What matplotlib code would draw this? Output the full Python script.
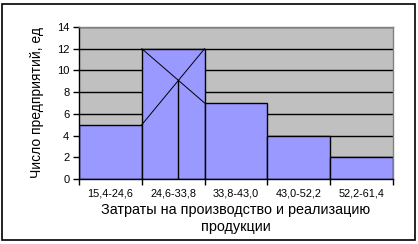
import matplotlib.pyplot as plt
import numpy as np
from matplotlib.patches import Rectangle

plt.rcParams['font.family'] = ['Liberation Sans', 'DejaVu Sans']

# data
intervals = ['15,4-24,6', '24,6-33,8', '33,8-43,0', '43,0-52,2', '52,2-61,4']
counts = [5, 12, 7, 4, 2]
y_ticks = [0, 2, 4, 6, 8, 10, 12, 14]

fig = plt.figure(figsize=(4.18, 2.44), dpi=100)
# outer chart border like excel
fig.patches.append(Rectangle((2 / 418, 4 / 244), 413 / 418, 236 / 244, transform=fig.transFigure,
                             fill=False, edgecolor='black', linewidth=1.2))

ax = fig.add_axes([79 / 418, 1 - 179 / 244, 314 / 418, 152 / 244])
ax.set_facecolor('#C0C0C0')

x = np.arange(len(counts))
ax.set_axisbelow(True)
ax.grid(axis='y', color='black', linewidth=1.0)
ax.bar(x, counts, width=1.0, color='#9999FF', edgecolor='black', linewidth=1.0, zorder=2)

# mode construction inside the modal bar
m = int(np.argmax(counts))
left, right = m - 0.5, m + 0.5
prev_c, mode_c, next_c = counts[m - 1], counts[m], counts[m + 1]
ax.plot([left, right], [prev_c, mode_c], color='black', linewidth=0.7, zorder=3)
ax.plot([left, right], [mode_c, next_c], color='black', linewidth=0.7, zorder=3)
t = (mode_c - prev_c) / ((mode_c - prev_c) + (mode_c - next_c))
x_mode = left + t
y_mode = prev_c + (mode_c - prev_c) * t
ax.plot([x_mode, x_mode], [0, y_mode], color='black', linewidth=1.0, zorder=3)

ax.set_xlim(-0.5, len(counts) - 0.5)
ax.set_ylim(0, 14)
ax.set_yticks(y_ticks)
ax.set_xticks(x)
ax.set_xticklabels(intervals, fontsize=7.8)
ax.set_xticks(np.arange(len(counts) + 1) - 0.5, minor=True)
ax.tick_params(axis='x', which='major', length=0, pad=7)
ax.tick_params(axis='x', which='minor', length=4, width=1, direction='out', color='black')
ax.tick_params(axis='y', labelsize=8, length=4, width=1, direction='out', pad=3)

for s in ['left', 'bottom']:
    ax.spines[s].set_color('black')
    ax.spines[s].set_linewidth(1.0)
for s in ['top', 'right']:
    ax.spines[s].set_color('#808080')
    ax.spines[s].set_linewidth(1.0)

ax.set_ylabel('Число предприятий, ед', fontsize=10, labelpad=9)
ax.set_xlabel('Затраты на производство и реализацию\nпродукции', fontsize=10.4,
              linespacing=1.3)
ax.xaxis.set_label_coords(0.5, -0.155)

fig.savefig('out.png', dpi=100)
